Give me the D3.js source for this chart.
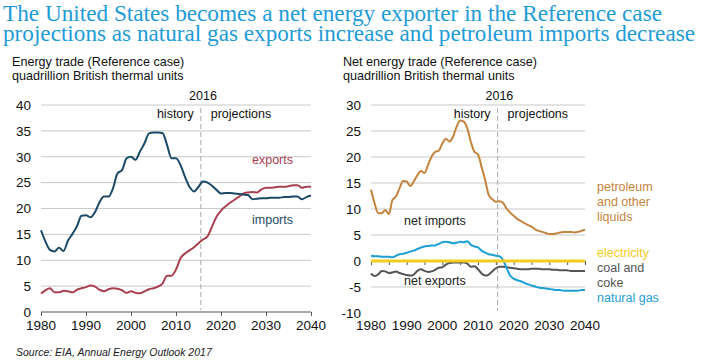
<!DOCTYPE html>
<html>
<head>
<meta charset="utf-8">
<script src="https://cdn.jsdelivr.net/npm/d3@7"></script>
<style>
  body { margin: 0; background: #fff; }
  svg { font-family: "Liberation Sans", Arial, sans-serif; }
</style>
</head>
<body>
<svg width="704" height="361"></svg>
<script>
var svg = d3.select("svg");

// years 1980..2040
var years = d3.range(1980, 2041);

var imports = [15.8, 13.6, 12.0, 11.7, 12.4, 11.8, 13.8, 15.1, 16.6, 18.6, 18.7, 18.3, 19.3, 21.2, 22.3, 22.3, 23.9, 26.8, 27.4, 29.7,
  30.0, 29.4, 31.0, 32.6, 34.5, 34.7, 34.7, 34.6, 32.3, 29.7, 29.7, 28.4, 26.1, 24.2, 23.3, 24.2, 25.2, 25.0, 24.4, 23.6,
  22.9, 23.0, 23.0, 22.9, 22.8, 22.7, 22.6, 21.8, 21.9, 22.0, 22.0, 22.1, 22.1, 22.1, 22.2, 22.2, 22.3, 22.3, 21.8, 22.2, 22.5];

var exports = [3.6, 4.2, 4.6, 3.8, 3.8, 4.1, 4.0, 3.8, 4.3, 4.6, 4.8, 5.1, 4.9, 4.3, 4.0, 4.4, 4.6, 4.5, 4.2, 3.7,
  4.0, 3.7, 3.6, 4.0, 4.4, 4.6, 4.9, 5.5, 7.0, 7.0, 8.2, 10.4, 11.3, 11.9, 12.5, 13.3, 14.0, 14.6, 16.5, 18.4,
  19.6, 20.4, 21.1, 21.7, 22.3, 22.9, 23.1, 23.2, 23.1, 23.7, 24.0, 24.0, 24.1, 24.2, 24.2, 24.3, 24.5, 24.5, 24.0, 24.2, 24.2];

var petroleum = [13.7, 11.1, 9.2, 9.2, 9.8, 9.0, 11.7, 12.4, 14.0, 15.4, 15.3, 14.4, 15.3, 16.5, 17.3, 16.9, 18.5, 20.1, 21.0, 21.2,
  22.6, 23.5, 23.0, 23.9, 25.8, 27.0, 26.8, 25.5, 22.9, 21.0, 20.5, 18.1, 15.6, 12.7, 11.9, 11.4, 11.5, 11.2, 10.1, 9.3,
  8.7, 8.1, 7.7, 7.3, 6.9, 6.6, 6.1, 5.8, 5.6, 5.4, 5.2, 5.2, 5.3, 5.5, 5.6, 5.6, 5.6, 5.5, 5.6, 5.8, 6.0];

var natgas = [1.0, 0.9, 0.9, 0.8, 0.8, 0.8, 0.7, 1.0, 1.3, 1.4, 1.6, 1.8, 2.0, 2.3, 2.6, 2.8, 2.9, 3.0, 3.0, 3.3,
  3.6, 3.7, 3.6, 3.4, 3.5, 3.7, 3.6, 3.8, 3.1, 2.8, 2.6, 2.0, 1.6, 1.3, 1.2, 1.0, 0.9, 0.2, -1.3, -2.8,
  -3.4, -3.7, -3.9, -4.2, -4.5, -4.7, -4.9, -5.1, -5.2, -5.3, -5.4, -5.5, -5.6, -5.6, -5.7, -5.7, -5.7, -5.7, -5.7, -5.6, -5.6];

var coal = [-2.4, -2.9, -2.6, -1.9, -2.0, -2.3, -2.2, -2.0, -2.3, -2.5, -2.7, -2.8, -2.6, -1.9, -1.6, -1.9, -2.1, -2.0, -1.7, -1.3,
  -1.2, -0.7, -0.4, -0.3, -0.3, -0.3, -0.3, -0.5, -1.1, -1.0, -1.6, -2.4, -2.8, -2.6, -2.0, -1.4, -1.1, -1.1, -1.2, -1.3,
  -1.4, -1.5, -1.6, -1.6, -1.6, -1.5, -1.5, -1.5, -1.6, -1.6, -1.6, -1.7, -1.7, -1.8, -1.8, -1.8, -1.9, -1.9, -1.9, -1.9, -1.9];

var electricity = years.map(function() { return 0; });

var leftTicks = [0, 5, 10, 15, 20, 25, 30, 35, 40];
var rightTicks = [-10, -5, 0, 5, 10, 15, 20, 25, 30];
var yearTicks = [1980, 1990, 2000, 2010, 2020, 2030, 2040];
var splitYear = 2015.5;

var titleLines = [
  "The United States becomes a net energy exporter in the Reference case",
  "projections as natural gas exports increase and petroleum imports decrease"
];
var titleWidths = [659, 692];

// title
svg.selectAll(".title")
  .data(titleLines)
  .enter().append("text")
    .attr("class", "title")
    .attr("x", 3)
    .attr("y", function(d, i) { return 21 + i * 20; })
    .attr("font-family", "Liberation Serif, Times New Roman, serif")
    .attr("font-size", 23)
    .attr("textLength", function(d, i) { return titleWidths[i]; })
    .attr("lengthAdjust", "spacingAndGlyphs")
    .attr("fill", "#1e9bd7")
    .text(function(d) { return d; });

function panel(opts) {
  var g = svg.append("g");
  var x = d3.scaleLinear().domain([1980, 2040]).range(opts.xr);
  var y = d3.scaleLinear().domain(opts.yd).range(opts.yr);

  g.selectAll(".sub")
    .data(opts.sub)
    .enter().append("text")
      .attr("x", opts.subX)
      .attr("y", function(d, i) { return 66 + i * 14; })
      .attr("font-size", 12.6)
      .attr("fill", "#111")
      .text(function(d) { return d; });

  // gridlines
  g.append("g").selectAll("line")
    .data(opts.grid)
    .enter().append("line")
      .attr("x1", x(1980)).attr("x2", x(2040))
      .attr("y1", function(d) { return y(d); })
      .attr("y2", function(d) { return y(d); })
      .attr("stroke", "#c9c9c9")
      .attr("stroke-width", 1);

  // y labels
  g.append("g")
    .attr("transform", "translate(" + (x(1980) - 10) + ",0)")
    .call(d3.axisLeft(y).tickValues(opts.ticks).tickSize(0).tickPadding(0)
      .tickFormat(function(d) { return String(d); }))
    .call(function(s) { s.select(".domain").remove(); })
    .selectAll("text")
      .attr("font-family", "Liberation Sans, Arial, sans-serif")
      .attr("font-size", 13.5)
      .attr("fill", "#111");

  // split line
  g.append("line")
    .attr("x1", x(splitYear)).attr("x2", x(splitYear))
    .attr("y1", y(opts.yd[1]) + 3).attr("y2", y(opts.yd[0]) - 2)
    .attr("stroke", "#aaa")
    .attr("stroke-width", 1)
    .attr("stroke-dasharray", "5,3");

  g.append("text")
    .attr("x", x(2016)).attr("y", y(opts.yd[1]) - 5)
    .attr("text-anchor", "middle")
    .attr("font-size", 12.5).attr("fill", "#111")
    .text("2016");
  g.append("text")
    .attr("x", x(splitYear) - 7).attr("y", y(opts.yd[1]) + 13)
    .attr("text-anchor", "end")
    .attr("font-size", 12.5).attr("fill", "#111")
    .text("history");
  g.append("text")
    .attr("x", x(splitYear) + 10).attr("y", y(opts.yd[1]) + 13)
    .attr("font-size", 12.5).attr("fill", "#111")
    .text("projections");

  // x axis on the zero line
  g.append("g")
    .attr("transform", "translate(0," + y(0) + ")")
    .call(d3.axisBottom(x).tickValues(opts.axisTicks).tickSize(4).tickFormat(""))
    .call(function(s) {
      s.select(".domain").attr("stroke", "#555").attr("d", "M" + x(1980) + ",0H" + x(2040));
      s.selectAll(".tick line").attr("stroke", "#555");
    });

  // year labels
  g.selectAll(".yl")
    .data(yearTicks)
    .enter().append("text")
      .attr("x", function(d) { return x(d); })
      .attr("y", 330)
      .attr("text-anchor", "middle")
      .attr("font-size", 13.5)
      .attr("fill", "#111")
      .text(function(d) { return d; });

  var line = d3.line()
    .x(function(d, i) { return x(years[i]); })
    .y(function(d) { return y(d); })
    .curve(d3.curveMonotoneX);

  opts.series.forEach(function(s) {
    g.append("path")
      .datum(s.values)
      .attr("fill", "none")
      .attr("stroke", s.color)
      .attr("stroke-width", s.width || 2)
      .attr("d", line);
  });

  return { g: g, x: x, y: y };
}

var left = panel({
  xr: [41, 311], yd: [0, 40], yr: [312, 105],
  sub: ["Energy trade (Reference case)", "quadrillion British thermal units"], subX: 12,
  grid: [5, 10, 15, 20, 25, 30, 35, 40], ticks: leftTicks, axisTicks: yearTicks,
  series: [
    { values: exports, color: "#a8404f" },
    { values: imports, color: "#1b4a68" }
  ]
});

left.g.append("text").attr("x", 252).attr("y", 164)
  .attr("font-size", 12.5).attr("fill", "#a8404f").text("exports");
left.g.append("text").attr("x", 252).attr("y", 224)
  .attr("font-size", 12.5).attr("fill", "#1b4a68").text("imports");

var right = panel({
  xr: [371, 585], yd: [-10, 30], yr: [313, 105],
  sub: ["Net energy trade (Reference case)", "quadrillion British thermal units"], subX: 343,
  grid: [-5, 5, 10, 15, 20, 25, 30], ticks: rightTicks, axisTicks: d3.range(1980, 2041, 5),
  series: [
    { values: coal, color: "#555555" },
    { values: natgas, color: "#1da0d6" },
    { values: petroleum, color: "#c4843e" },
    { values: electricity, color: "#f2cc1f", width: 3 }
  ]
});

right.g.append("text").attr("x", 404).attr("y", 225)
  .attr("font-size", 12.5).attr("fill", "#222").text("net imports");
right.g.append("text").attr("x", 404).attr("y", 285)
  .attr("font-size", 12.5).attr("fill", "#222").text("net exports");

var legendItems = [
  { lines: ["petroleum", "and other", "liquids"], color: "#c4843e", y: 191 },
  { lines: ["electricity"], color: "#f2cc1f", y: 257 },
  { lines: ["coal and", "coke"], color: "#555555", y: 272 },
  { lines: ["natural gas"], color: "#1da0d6", y: 302 }
];

legendItems.forEach(function(item) {
  right.g.selectAll(null)
    .data(item.lines)
    .enter().append("text")
      .attr("x", 597)
      .attr("y", function(d, i) { return item.y + i * 15; })
      .attr("font-size", 12.5)
      .attr("fill", item.color)
      .text(function(d) { return d; });
});

svg.append("text")
  .attr("x", 16).attr("y", 356)
  .attr("font-size", 10.5)
  .attr("font-style", "italic")
  .attr("fill", "#222")
  .text("Source: EIA, Annual Energy Outlook 2017");
</script>
</body>
</html>
